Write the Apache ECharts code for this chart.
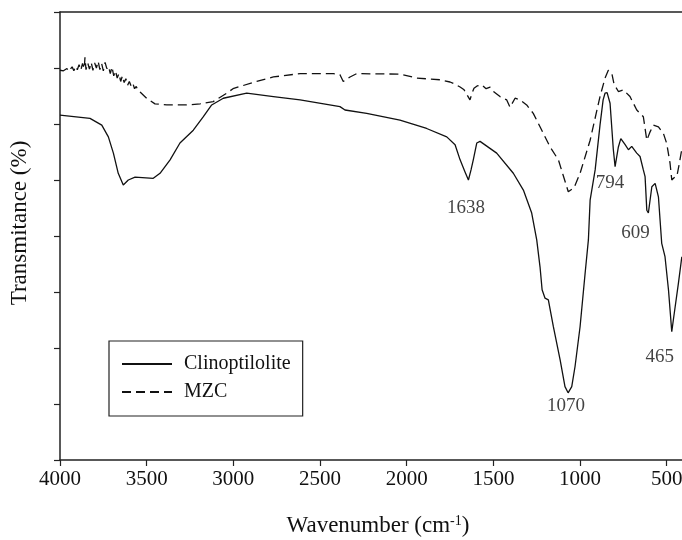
<!DOCTYPE html>
<html>
<head>
<meta charset="utf-8">
<script src="https://cdn.jsdelivr.net/npm/echarts@6/dist/echarts.min.js"></script>
<style>html,body{margin:0;padding:0;background:#fff}#c{width:682px;height:540px}</style>
</head>
<body>
<div id="c"></div>
<script>
// Wavenumber (cm-1) and transmittance (arbitrary %, 0-80 scale)
const clinoWave = [4000,3827,3759,3721,3692,3664,3635,3606,3567,3462,3423,3365,3308,3231,3173,3125,3058,2923,2769,2615,2385,2356,2231,2039,1885,1769,1721,1692,1663,1644,1629,1616,1596,1577,1481,1385,1327,1279,1250,1231,1219,1202,1183,1154,1115,1087,1069,1048,1029,1000,971,952,942,913,885,867,856,844,827,808,798,779,765,740,721,702,673,654,635,625,615,606,586,567,558,548,529,510,490,471,462,452,433,413];
const clinoT    = [61.6,61.0,59.8,57.7,54.8,51.2,49.1,50.0,50.5,50.3,51.2,53.6,56.6,58.9,61.3,63.4,64.6,65.5,64.9,64.3,63.1,62.5,61.9,60.7,59.2,57.7,56.3,53.6,51.4,50.0,51.8,53.6,56.6,56.9,54.8,51.2,48.2,44.1,39.3,34.5,30.4,28.9,28.6,23.8,17.9,13.1,12.0,13.1,16.7,23.8,33.3,39.3,46.4,51.8,59.8,64.3,65.5,65.6,63.7,55.4,52.4,55.9,57.4,56.3,55.4,56.0,54.8,54.2,51.8,50.6,44.6,44.1,48.8,49.4,49.4,47.0,38.7,36.3,30.4,22.9,25.0,24.7,31.5,36.3];

const mzcWave = [4000,3990,3980,3970,3960,3950,3940,3930,3920,3910,3900,3890,3880,3870,3860,3856,3850,3840,3830,3820,3810,3800,3790,3780,3770,3760,3750,3740,3730,3720,3710,3700,3690,3680,3670,3660,3650,3640,3630,3620,3610,3600,3590,3580,3570,3560,3550,3538,3500,3452,3384,3269,3192,3116,3038,3002,2962,2865,2769,2615,2423,2385,2366,2350,2327,2288,2039,1942,1808,1750,1721,1692,1669,1652,1635,1623,1612,1594,1567,1542,1519,1496,1462,1423,1404,1375,1346,1308,1270,1231,1173,1125,1098,1068,1035,1000,942,885,856,837,816,804,779,750,712,673,654,635,615,596,577,548,519,500,481,471,458,442,429,412];
const mzcT    = [69.6,69.8,69.5,69.7,69.9,69.4,69.8,70.2,69.5,70.3,69.7,70.6,69.6,70.8,69.9,71.9,69.7,70.9,69.8,71.0,69.6,70.9,70.0,71.2,69.7,70.8,69.5,71.0,69.9,70.3,69.0,70.2,68.6,69.5,68.2,69.0,67.6,68.6,67.4,68.1,66.9,67.6,66.8,67.3,66.3,66.7,66.0,65.7,64.6,63.6,63.4,63.4,63.6,64.0,65.5,66.3,66.7,67.6,68.4,69.0,69.0,68.8,67.6,67.9,68.4,69.0,68.9,68.2,67.9,67.5,67.1,66.6,66.1,65.2,64.3,65.5,66.4,66.8,67.0,66.3,66.6,65.7,64.9,64.3,63.0,64.6,64.3,63.4,61.9,59.5,55.9,53.6,50.9,47.9,48.6,51.2,57.1,64.9,68.2,69.6,68.9,67.1,65.8,66.1,64.9,62.5,61.9,61.3,57.1,58.6,59.8,59.5,58.3,56.5,53.0,50.0,50.4,50.6,52.7,55.7];

const xTickLabels = [4000,3500,3000,2500,2000,1500,1000,500];
const peakLabels = ['1638','794','609','1070','465'];
const peakLabelWave = [1658,827,680,1081,541];
const peakLabelT = [45.0,49.5,40.6,9.6,18.4];

const seriesNames = ['Clinoptilolite','MZC'];

const serif = 'Liberation Serif, Times New Roman, serif';
const chart = echarts.init(document.getElementById('c'), null, {renderer:'canvas'});
const zip = (a,b) => a.map((v,i)=>[v,b[i]]);

chart.setOption({
  animation:false,
  backgroundColor:'#fff',
  grid:{left:60, right:0, top:12, bottom:80, containLabel:false, outerBoundsMode:'none'},
  legend:{
    data:seriesNames,
    orient:'vertical',
    left:109, top:341,
    padding:[13,12,14,12],
    itemWidth:50, itemHeight:20, itemGap:8,
    borderColor:'#222', borderWidth:1.2,
    itemStyle:{opacity:0},
    textStyle:{fontFamily:serif, fontSize:20, color:'#111', padding:[0,0,0,7]}
  },
  xAxis:[{
    type:'value', inverse:true, min:412, max:4000,
    axisLine:{show:true, lineStyle:{color:'#222', width:1.5}},
    axisTick:{show:true, inside:false, length:6, customValues:xTickLabels, lineStyle:{color:'#222', width:1.2}},
    axisLabel:{show:true, margin:9, customValues:xTickLabels, formatter:v=>String(v), fontFamily:serif, fontSize:21, color:'#111'},
    splitLine:{show:false}
  },{
    type:'value', inverse:true, min:412, max:4000, position:'top',
    axisLine:{show:true, onZero:false, lineStyle:{color:'#222', width:1.5}},
    axisTick:{show:false}, axisLabel:{show:false}, splitLine:{show:false}
  }],
  yAxis:{
    type:'value', min:0, max:80, interval:10,
    axisLine:{show:true, lineStyle:{color:'#222', width:1.5}},
    axisTick:{show:true, inside:false, length:6, lineStyle:{color:'#222', width:1.2}},
    axisLabel:{show:false},
    splitLine:{show:false}
  },
  series:[{
    name:seriesNames[0], type:'line', symbol:'none', showSymbol:false,
    data:zip(clinoWave, clinoT),
    lineStyle:{color:'#111', width:1.3, type:'solid'},
    itemStyle:{color:'#111'}
  },{
    name:seriesNames[1], type:'line', symbol:'none', showSymbol:false,
    data:zip(mzcWave, mzcT),
    lineStyle:{color:'#111', width:1.3, type:[9,5]},
    itemStyle:{color:'#111'}
  },{
    name:'peaks', type:'scatter', symbolSize:0, silent:true,
    data:peakLabels.map((t,i)=>({name:t, value:[peakLabelWave[i], peakLabelT[i]]})),
    label:{show:true, position:'inside', formatter:p=>p.name, fontFamily:serif, fontSize:19, color:'#111'}
  }],
  graphic:[{
    type:'text', x:20, y:223, rotation:Math.PI/2,
    style:{text:'Transmitance (%)', fontFamily:serif, fontSize:23, fill:'#111', textAlign:'center', textVerticalAlign:'middle'}
  },{
    type:'text', x:378, y:526,
    style:{text:'Wavenumber (cm{sup|-1})', fontFamily:serif, fontSize:23, fill:'#111', textAlign:'center', textVerticalAlign:'middle',
      rich:{sup:{fontFamily:serif, fontSize:14, verticalAlign:'top', fill:'#111', padding:[0,0,10,0]}}}
  }]
});
</script>
</body>
</html>
